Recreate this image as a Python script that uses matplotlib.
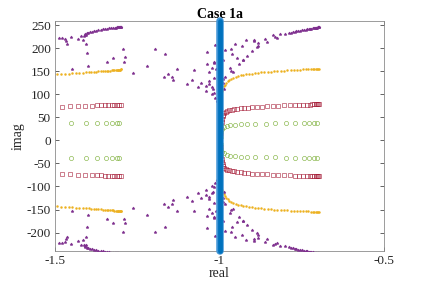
import numpy as np
import matplotlib
matplotlib.use("Agg")
import matplotlib.pyplot as plt

plt.rcParams['font.family'] = ['Liberation Serif', 'DejaVu Serif']
plt.rcParams['axes.unicode_minus'] = False

# ---------------- data (upper half, conjugate pairs mirrored) ----------------
# purple: scattered eigenvalues
purple_re = [-1.487, -1.479, -1.470, -1.467, -1.464, -1.452, -1.431, -1.421, -1.414, -1.406,
             -1.402, -1.401, -1.449,
             -1.343, -1.323, -1.293, -1.291, -1.286, -1.262, -1.221, -1.195, -1.170, -1.165,
             -1.156, -1.144, -1.141, -1.129, -1.100, -1.085, -1.077, -1.065, -1.055, -1.042,
             -1.039, -1.037, -1.032, -1.031, -1.024, -1.022, -1.016, -0.988, -0.968, -0.958,
             -0.942, -0.930, -1.023, -1.041, -1.032, -1.020, -1.016, -1.013, -1.008, -0.983,
             -0.990, -0.988, -0.986, -1.014, -0.982, -0.966, -0.953, -0.962, -0.946, -0.931,
             -0.919, -0.928, -0.916, -0.901, -0.896, -0.894, -0.884, -0.886, -0.883, -0.862,
             -0.857, -0.838, -0.830, -0.825, -0.815, -0.801, -0.965, -1.005, -0.995,
             -1.018, -1.017, -1.012]
purple_im = [222, 223, 220, 215, 209, 225, 219, 226, 217, 210,
             189, 162, 154,
             171, 179, 198, 171, 180, 146, 161, 198, 137, 188,
             144, 138, 130, 154, 122, 131, 153, 115, 124, 119,
             191, 165, 148, 128, 115, 100, 167, 175, 157, 149,
             166, 174, 157, 107, 122, 112, 102, 93, 85, 137,
             133, 124, 111, 207, 196, 199, 210, 187, 178, 205,
             217, 175, 183, 194, 218, 215, 205, 202, 212, 221,
             214, 228, 225, 223, 230, 230, 151, 78, 70,
             169, 136, 154]

# purple: dense branches
purpleL_re = [-1.412, -1.410, -1.408, -1.406, -1.404, -1.400, -1.395, -1.389, -1.382, -1.375,
              -1.368, -1.361, -1.354, -1.347, -1.341, -1.335, -1.329, -1.324, -1.319, -1.315,
              -1.311, -1.308, -1.305, -1.303, -1.301, -1.299, -1.298]
purpleL_im = [226, 229, 231, 228, 233, 234, 235, 236, 237, 238,
              239, 240, 240.8, 241.5, 242.2, 242.8, 243.3, 243.8, 244.2, 244.6,
              245, 245.3, 245.6, 245.8, 246, 246.2, 246.3]
purpleR_re = [-0.790, -0.784, -0.778, -0.772, -0.766, -0.760, -0.754, -0.748, -0.743, -0.738,
              -0.733, -0.729, -0.725, -0.721, -0.717, -0.714, -0.711, -0.708, -0.706, -0.704,
              -0.702, -0.700, -0.699, -0.698]
purpleR_im = [232, 233.2, 234.3, 235.3, 236.3, 237.2, 238, 238.8, 239.5, 240.2,
              240.8, 241.4, 241.9, 242.4, 242.9, 243.3, 243.7, 244, 244.3, 244.6,
              244.9, 245.1, 245.3, 245.5]

# orange
orangeL_re = [-1.495, -1.482, -1.470, -1.458, -1.447, -1.436, -1.426, -1.416, -1.407, -1.398,
              -1.390, -1.382, -1.375, -1.368, -1.361, -1.355, -1.349, -1.343, -1.338, -1.333,
              -1.328, -1.324, -1.320, -1.316, -1.313, -1.310, -1.307, -1.305, -1.303, -1.301,
              -1.299, -1.298]
orangeL_im = [143.0, 143.6, 144.2, 144.8, 145.4, 145.9, 146.4, 146.9, 147.4, 147.8,
              148.3, 148.7, 149.1, 149.5, 149.9, 150.2, 150.6, 150.9, 151.2, 151.5,
              151.8, 152.1, 152.3, 152.6, 152.8, 153.0, 153.2, 153.4, 153.6, 153.7,
              153.9, 154.0]
orangeR_re = [-0.998, -0.997, -0.996, -0.995, -0.994, -0.992, -0.990, -0.987, -0.984, -0.980,
              -0.975, -0.970, -0.964, -0.958, -0.951, -0.944, -0.936, -0.928, -0.920, -0.911,
              -0.902, -0.893, -0.884, -0.874, -0.864, -0.854, -0.844, -0.834, -0.824, -0.814,
              -0.804, -0.794, -0.784, -0.774, -0.764, -0.755, -0.746, -0.738, -0.730, -0.723,
              -0.717, -0.712, -0.707, -0.703, -0.700, -0.698]
orangeR_im = [70, 80, 88, 94, 100, 107, 112, 117, 121, 125,
              128, 131, 134, 136, 138, 139.5, 141, 142, 143, 144,
              145, 146, 146.8, 147.5, 148.2, 148.8, 149.4, 150, 150.5, 151,
              151.5, 152, 152.4, 152.8, 153.2, 153.5, 153.8, 154.1, 154.3, 154.5,
              154.7, 154.9, 155, 155.1, 155.2, 155.3]

# red squares
redL_re = [-1.480, -1.453, -1.429, -1.408, -1.388, -1.373, -1.360, -1.348, -1.338, -1.328,
           -1.320, -1.312, -1.305, -1.300]
redL_im = [73, 73.8, 74.4, 74.9, 75.4, 75.8, 76.1, 76.4, 76.7, 76.9,
           77.1, 77.3, 77.5, 77.6]
redR_re = [-0.996, -0.995, -0.994, -0.993, -0.992, -0.990, -0.988, -0.985, -0.981, -0.976,
           -0.970, -0.963, -0.955, -0.946, -0.936, -0.925, -0.913, -0.900, -0.886, -0.871,
           -0.855, -0.838, -0.821, -0.804, -0.787, -0.771, -0.757, -0.745, -0.735, -0.726,
           -0.719, -0.713, -0.708, -0.704, -0.701, -0.699]
redR_im = [15, 25, 33, 40, 46, 52, 56, 59, 61.5, 63.5,
           65, 66.5, 67.5, 68.5, 69.5, 70.5, 71.2, 72, 72.7, 73.3,
           74, 74.6, 75.2, 75.7, 76.2, 76.6, 77, 77.3, 77.5, 77.7,
           77.9, 78, 78.1, 78.2, 78.3, 78.3]

# green circles
greenL_re = [-1.451, -1.407, -1.372, -1.345, -1.327, -1.312, -1.304]
greenL_im = [38.0, 38.2, 38.4, 38.5, 38.6, 38.7, 38.7]
greenR_re = [-0.996, -0.994, -0.991, -0.987, -0.977, -0.967, -0.953, -0.936, -0.916, -0.891,
             -0.860, -0.830, -0.799, -0.771, -0.743, -0.727, -0.713, -0.703]
greenR_im = [8, 18, 25, 28, 32, 33, 34, 35, 35.5, 36,
             36.5, 37, 37.5, 38, 38, 38.5, 38.5, 38.5]

# blue line at real = -1
blue_re = [-1.0, -1.0]
blue_im = [-240, 260]

xticks = [-1.5, -1, -0.5]
xticklabels = ['-1.5', '-1', '-0.5']
yticks = [-200, -150, -100, -50, 0, 50, 100, 150, 200, 250]

# ---------------- plotting ----------------
def conj(re, im):
    re = np.asarray(re, float)
    im = np.asarray(im, float)
    return np.concatenate([re, re]), np.concatenate([im, -im])

C_PUR = (0.494, 0.184, 0.556)
C_ORA = (0.929, 0.694, 0.125)
C_RED = (0.635, 0.078, 0.184)
C_GRN = (0.466, 0.674, 0.188)
C_BLU = (0.0, 0.447, 0.741)

fig = plt.figure(figsize=(4.24, 2.83), dpi=100)
ax = fig.add_axes([0.1297, 0.1131, 0.9057 - 0.1297, 0.9258 - 0.1131])

for re, im in [(redL_re, redL_im), (redR_re, redR_im)]:
    x, y = conj(re, im)
    ax.plot(x, y, linestyle='none', marker='s', ms=2.6, mfc='none', mec=C_RED, mew=0.45,
            alpha=0.85, zorder=3)
for re, im in [(greenL_re, greenL_im), (greenR_re, greenR_im)]:
    x, y = conj(re, im)
    ax.plot(x, y, linestyle='none', marker='o', ms=3.0, mfc='none', mec=C_GRN, mew=0.45,
            alpha=0.9, zorder=3)
for re, im in [(orangeL_re, orangeL_im), (orangeR_re, orangeR_im)]:
    x, y = conj(re, im)
    ax.plot(x, y, linestyle='none', marker='o', ms=1.4, mfc=C_ORA, mec=C_ORA, mew=0.3, zorder=3)
for re, im in [(purple_re, purple_im), (purpleL_re, purpleL_im), (purpleR_re, purpleR_im)]:
    x, y = conj(re, im)
    ax.plot(x, y, linestyle='none', marker='*', ms=2.2, mfc=C_PUR, mec=C_PUR, mew=0.4, zorder=3)

ax.plot(blue_re, blue_im, color=(0.25, 0.58, 0.84), lw=5.4, solid_capstyle='round',
        clip_on=False, zorder=4)
ax.plot(blue_re, blue_im, color=C_BLU, lw=3.4, solid_capstyle='round',
        clip_on=False, zorder=5)

ax.set_xlim(-1.5, -0.5)
ax.set_ylim(-240, 259)
ax.set_xticks(xticks)
ax.set_xticklabels(xticklabels)
ax.set_yticks(yticks)
ax.tick_params(direction='in', length=3, width=0.5, colors=(0.15, 0.15, 0.15),
               labelsize=9.5, top=True, right=True, pad=3)
for s in ax.spines.values():
    s.set_color((0.55, 0.55, 0.55))
    s.set_linewidth(0.6)

ax.set_title('Case 1a', fontsize=10, fontweight='bold', pad=2)
ax.set_xlabel('real', fontsize=10, labelpad=0, color=(0.15, 0.15, 0.15))
ax.set_ylabel('imag', fontsize=10, labelpad=1, color=(0.15, 0.15, 0.15))

fig.savefig('out.png', dpi=100)
